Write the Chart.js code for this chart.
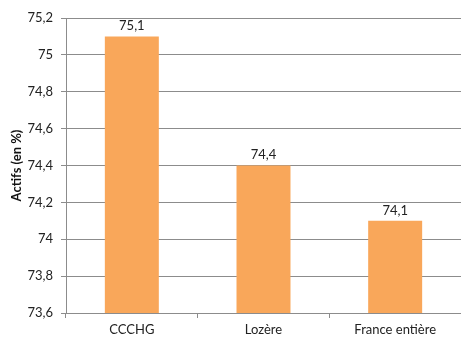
<!DOCTYPE html>
<html>
<head>
<meta charset="utf-8">
<script src="https://cdn.jsdelivr.net/npm/chart.js@4"></script>
<style>
  html, body { margin: 0; padding: 0; background: #fff; }
  #wrap { width: 461px; height: 338px; }
</style>
</head>
<body>
<div id="wrap"><canvas id="myChart" width="461" height="338"></canvas></div>
<script>
var categories = ["CCCHG", "Lozère", "France entière"];
var actifs = [75.1, 74.4, 74.1];
var yMin = 73.6, yMax = 75.2, yStep = 0.2;

var barColor = "#F9A75A";
var gridColor = "#8C8C8C";
var fontFamily = "Lato, 'Open Sans', sans-serif";

function frNumber(v) {
    return String(Math.round(v * 10) / 10).replace(".", ",");
}

// values written above each bar
var valueLabels = {
    id: "valueLabels",
    afterDatasetsDraw: function (chart) {
        var ctx = chart.ctx;
        var meta = chart.getDatasetMeta(0);
        ctx.save();
        ctx.font = "13px " + fontFamily;
        ctx.fillStyle = "#222";
        ctx.textAlign = "center";
        ctx.textBaseline = "bottom";
        meta.data.forEach(function (bar, i) {
            ctx.fillText(frNumber(actifs[i]), bar.x, bar.y - 4);
        });
        ctx.restore();
    }
};

new Chart("myChart", {
    type: "bar",
    data: {
        labels: categories,
        datasets: [{
            data: actifs,
            backgroundColor: barColor,
            borderWidth: 0,
            categoryPercentage: 1,
            barPercentage: 0.41
        }]
    },
    options: {
        responsive: false,
        animation: false,
        layout: { padding: { top: 18, right: 0, left: 0, bottom: 0 } },
        plugins: {
            legend: { display: false },
            tooltip: { enabled: false }
        },
        scales: {
            x: {
                grid: {
                    drawOnChartArea: false,
                    drawTicks: true,
                    tickLength: 5,
                    color: gridColor
                },
                border: { color: gridColor },
                ticks: {
                    color: "#222",
                    padding: 4,
                    font: { family: fontFamily, size: 13 }
                },
                afterFit: function (axis) { axis.height = 25; }
            },
            y: {
                min: yMin,
                max: yMax,
                grid: {
                    color: gridColor,
                    tickLength: 5
                },
                border: { color: gridColor },
                ticks: {
                    stepSize: yStep,
                    color: "#222",
                    padding: 8,
                    font: { family: fontFamily, size: 13 },
                    callback: function (v) { return frNumber(v); }
                },
                title: {
                    display: true,
                    text: "Actifs (en %)",
                    color: "#111",
                    padding: { top: 9, bottom: 0 },
                    font: { family: fontFamily, size: 13, weight: "bold" }
                },
                afterFit: function (axis) { axis.width = 66; }
            }
        }
    },
    plugins: [valueLabels]
});
</script>
</body>
</html>
